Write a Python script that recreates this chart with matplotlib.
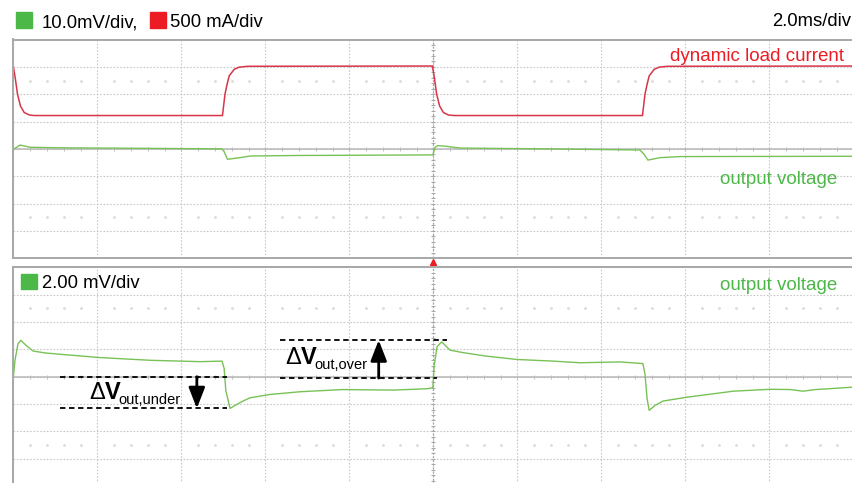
import numpy as np
import matplotlib.pyplot as plt
from matplotlib.patches import Rectangle

plt.rcParams['font.family'] = ['Liberation Sans', 'DejaVu Sans']
plt.rcParams['mathtext.fontset'] = 'custom'
plt.rcParams['mathtext.rm'] = 'Liberation Sans'
plt.rcParams['mathtext.bf'] = 'Liberation Sans:bold'
plt.rcParams['mathtext.it'] = 'Liberation Sans:italic'

# ---------- Data (time in ms, 2 ms/div; traces in screen divisions) ----------

current_t = [0, 0.05, 0.10, 0.17, 0.26, 0.38, 0.50, 4.98, 5.04, 5.09, 5.14, 5.26, 5.38, 5.58,
             9.98, 10.03, 10.08, 10.15, 10.24, 10.36, 10.50, 14.98, 15.04, 15.09, 15.14,
             15.26, 15.38, 15.58, 20.0]
current_div = [3.03, 2.55, 2.0, 1.57, 1.33, 1.24, 1.22, 1.22, 2.0, 2.36, 2.67, 2.91, 2.99, 3.02,
               3.03, 2.55, 2.0, 1.57, 1.33, 1.24, 1.22, 1.22, 2.0, 2.36, 2.67,
               2.91, 2.99, 3.02, 3.03]

vout_top_t = [0, 0.16, 0.4, 1.1, 3.26, 4.97, 5.02, 5.1, 5.4, 5.64, 6.83, 9.99, 10.04, 10.1,
              10.28, 10.64, 12.78, 14.92, 15.02, 15.11, 15.4, 15.88, 20.0]
vout_top_div = [-0.02, 0.14, 0.06, 0.04, 0.02, 0.0, -0.1, -0.38, -0.32, -0.26, -0.24, -0.22,
                0.05, 0.12, 0.10, 0.03, 0.0, -0.04, -0.2, -0.41, -0.32, -0.28, -0.27]

vout_t = [0, 0.04, 0.11, 0.18, 0.30, 0.47, 0.75, 1.11, 2.06, 3.26, 4.45, 4.97, 5.02, 5.06,
          5.16, 5.28, 5.47, 5.64, 6.11, 6.83, 7.85, 9.04, 9.85, 9.99, 10.02, 10.09, 10.2,
          10.4, 10.71, 11.27, 11.99, 12.85, 13.49, 14.45, 14.99, 15.04, 15.09, 15.14, 15.28,
          15.47, 16.04, 17.14, 18.02, 18.5, 18.8, 19.1, 19.52, 20.0]
vout_div = [-0.04, 0.6, 1.2, 1.33, 1.15, 0.94, 0.87, 0.82, 0.70, 0.60, 0.55, 0.57, 0.3, -0.5,
            -1.16, -1.05, -0.89, -0.77, -0.65, -0.55, -0.47, -0.49, -0.44, -0.40, 0.4, 1.1, 1.27,
            0.97, 0.88, 0.75, 0.63, 0.57, 0.51, 0.54, 0.48, 0.1, -0.8, -1.23, -1.05,
            -0.89, -0.75, -0.53, -0.46, -0.47, -0.53, -0.47, -0.43, -0.38]

# annotation levels
under_t = (1.11, 5.09)
under_levels = (0.0, -1.16)
under_arrow_t = 4.37
over_t_top = (6.35, 10.32)
over_t_bottom = (6.35, 10.08)
over_levels = (1.34, -0.05)
over_arrow_t = 8.7

GREEN = '#78c255'
GREEN_TXT = '#4cb848'
RED = '#d8344a'
RED_TXT = '#ec1c24'

W, H = 853, 483


def fx(x):
    return x / W


def fy(y):
    return 1 - y / H


def graticule(ax):
    ax.set_xlim(0, 20)
    ax.set_ylim(-4, 4)
    ax.set_xticks(np.arange(0, 21, 2))
    ax.set_yticks(np.arange(-4, 5, 1))
    ax.tick_params(length=0, labelbottom=False, labelleft=False)
    ax.set_axisbelow(True)
    ax.grid(True, color='#c8c8c8', linestyle=(0, (1.5, 1.5)), linewidth=0.8)
    for s in ax.spines.values():
        s.set_color('#a8a8a8')
        s.set_linewidth(1.4)
    ax.axhline(0, color='#b8b8b8', lw=1.1, zorder=1)
    ax.axvline(10, color='#a4a4a4', lw=0.9, ls=(0, (1.5, 1.5)), zorder=1)
    sub_x = np.arange(0, 20.01, 0.4)
    ax.plot(sub_x, np.zeros_like(sub_x), ls='none', marker='|', ms=3.5, mew=0.7,
            color='#bcbcbc', zorder=1)
    sub_y = np.arange(-4, 4.01, 0.2)
    ax.plot(np.full_like(sub_y, 10), sub_y, ls='none', marker='_', ms=3.5, mew=0.7,
            color='#a8a8a8', zorder=1)
    dot_x = [x for x in sub_x if abs(x / 2 - round(x / 2)) > 0.01]
    for yy in (2.5, -2.5):
        ax.plot(dot_x, [yy] * len(dot_x), ls='none', marker='o', ms=1.0,
                color='#dadada', zorder=1)


fig = plt.figure(figsize=(W / 100, H / 100), dpi=100)
ax_top = fig.add_axes([fx(13.3), fy(258.3), 840 / W, 218.8 / H])
ax_bot = fig.add_axes([fx(13.3), fy(486.1), 840 / W, 218.8 / H])
graticule(ax_top)
graticule(ax_bot)

ax_top.plot(current_t, current_div, color=RED, lw=1.1)
ax_top.plot(vout_top_t, vout_top_div, color=GREEN, lw=1.0)
ax_bot.plot(vout_t, vout_div, color=GREEN, lw=1.0)

# trigger marker
ax_top.plot([10], [-4.15], marker='^', ms=5, color=RED_TXT, clip_on=False, ls='none')

# delta-V annotations
dash = dict(color='k', lw=1.3, ls=(0, (3, 2)))
for lvl in under_levels:
    ax_bot.plot(under_t, [lvl, lvl], **dash)
ax_bot.plot(over_t_top, [over_levels[0]] * 2, **dash)
ax_bot.plot(over_t_bottom, [over_levels[1]] * 2, **dash)
arrow = dict(arrowstyle='-|>,head_width=0.35,head_length=0.9', lw=2, color='k',
             shrinkA=0, shrinkB=0, mutation_scale=14)
ax_bot.annotate('', xy=(under_arrow_t, under_levels[1]), xytext=(under_arrow_t, under_levels[0]),
                arrowprops=arrow)
ax_bot.annotate('', xy=(over_arrow_t, over_levels[0]), xytext=(over_arrow_t, over_levels[1]),
                arrowprops=arrow)
ax_bot.text(1.80, -0.83, r'$\Delta\mathbf{V}$', fontsize=17, va='baseline')
ax_bot.text(2.50, -1.01, 'out,under', fontsize=10.5, va='baseline')
ax_bot.text(6.48, 0.45, r'$\Delta\mathbf{V}$', fontsize=17, va='baseline')
ax_bot.text(7.18, 0.27, 'out,over', fontsize=10.5, va='baseline')

# scale labels
fig.patches.append(Rectangle((fx(16), fy(28)), 16 / W, 16 / H, color=GREEN_TXT,
                             transform=fig.transFigure, figure=fig))
fig.patches.append(Rectangle((fx(150), fy(28)), 16 / W, 16 / H, color=RED_TXT,
                             transform=fig.transFigure, figure=fig))
fig.patches.append(Rectangle((fx(21), fy(289.3)), 16 / W, 15 / H, color=GREEN_TXT,
                             transform=fig.transFigure, figure=fig))
fig.text(fx(42), fy(27.3), '10.0mV/div,', fontsize=13.3, va='baseline')
fig.text(fx(170), fy(27.3), '500 mA/div', fontsize=13.3, va='baseline')
fig.text(fx(851), fy(26), '2.0ms/div', fontsize=13.3, va='baseline', ha='right')
fig.text(fx(42), fy(288.3), '2.00 mV/div', fontsize=13.3, va='baseline')
fig.text(fx(670), fy(61), 'dynamic load current', fontsize=13.5, va='baseline', color=RED_TXT)
fig.text(fx(720), fy(184), 'output voltage', fontsize=13.5, va='baseline', color=GREEN_TXT)
fig.text(fx(720), fy(290), 'output voltage', fontsize=13.5, va='baseline', color=GREEN_TXT)

fig.savefig('out.png', dpi=100)
